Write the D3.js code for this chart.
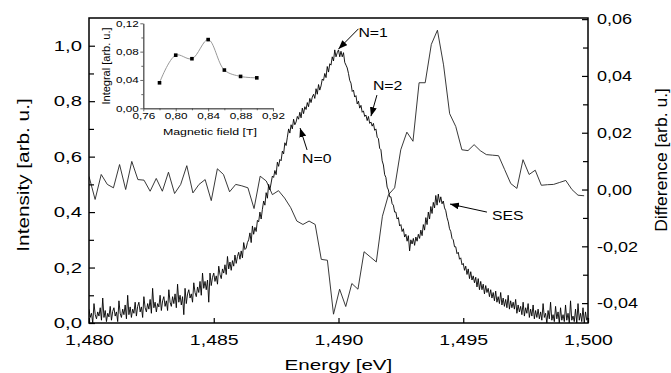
<!DOCTYPE html>
<html>
<head>
<meta charset="utf-8">
<script src="https://cdn.jsdelivr.net/npm/d3@7"></script>
<style>
  body { margin: 0; background: #fff; }
  svg { display: block; }
  text { font-family: "Liberation Sans", Arial, sans-serif; fill: #000; }
</style>
</head>
<body>
<div id="chart"></div>
<script>
// spectrum, sampled every 0.05 meV from 1.480 eV
const spectrumStart = 1.480;
const spectrumStep = 0.00005;
const spectrumIntensity = [
  0.05, 0.02, 0.035, 0.0, 0.07, 0.03, 0.015, 0.04, 0.025, 0.055, 0.01, 0.09, 0.02, 0.045, 0.005, 0.035, 0.022, 0.06, 0.01, 0.042,
  0.055, 0.025, 0.04, 0.005, 0.08, 0.035, 0.02, 0.05, 0.03, 0.065, 0.015, 0.1, 0.03, 0.058, 0.02, 0.05, 0.035, 0.075, 0.025, 0.06,
  0.075, 0.04, 0.058, 0.02, 0.095, 0.055, 0.04, 0.07, 0.05, 0.085, 0.035, 0.125, 0.055, 0.075, 0.04, 0.07, 0.058, 0.1, 0.045, 0.08,
  0.095, 0.06, 0.08, 0.045, 0.12, 0.075, 0.06, 0.095, 0.07, 0.105, 0.055, 0.14, 0.075, 0.1, 0.065, 0.095, 0.03, 0.125, 0.07, 0.105,
  0.12, 0.09, 0.105, 0.075, 0.145, 0.11, 0.095, 0.13, 0.11, 0.15, 0.1, 0.18, 0.125, 0.15, 0.12, 0.155, 0.075, 0.18, 0.135, 0.165,
  0.18, 0.15, 0.17, 0.14, 0.205, 0.175, 0.16, 0.195, 0.18, 0.21, 0.175, 0.24, 0.195, 0.22, 0.19, 0.225, 0.205, 0.245, 0.215, 0.24,
  0.255, 0.23, 0.26, 0.235, 0.29, 0.265, 0.27, 0.29, 0.3, 0.325, 0.29, 0.35, 0.32, 0.345, 0.33, 0.37, 0.365, 0.4, 0.375, 0.41,
  0.44, 0.425, 0.47, 0.45, 0.5, 0.48, 0.505, 0.53, 0.525, 0.55, 0.535, 0.58, 0.565, 0.59, 0.585, 0.62, 0.61, 0.65, 0.64, 0.67,
  0.7, 0.685, 0.715, 0.7, 0.735, 0.715, 0.725, 0.745, 0.735, 0.76, 0.74, 0.775, 0.755, 0.78, 0.77, 0.795, 0.78, 0.81, 0.795, 0.815,
  0.825, 0.81, 0.845, 0.825, 0.86, 0.84, 0.855, 0.88, 0.875, 0.9, 0.885, 0.925, 0.905, 0.935, 0.93, 0.96, 0.945, 0.985, 0.96, 0.975,
  0.985, 0.96, 0.98, 0.96, 0.975, 0.94, 0.93, 0.92, 0.9, 0.875, 0.865, 0.835, 0.84, 0.815, 0.82, 0.79, 0.8, 0.775, 0.785, 0.76,
  0.765, 0.745, 0.75, 0.73, 0.745, 0.72, 0.725, 0.71, 0.72, 0.695, 0.7, 0.67, 0.665, 0.63, 0.625, 0.585, 0.57, 0.535, 0.525, 0.49,
  0.48, 0.455, 0.455, 0.43, 0.425, 0.4, 0.4, 0.375, 0.38, 0.35, 0.355, 0.33, 0.34, 0.31, 0.32, 0.295, 0.315, 0.26, 0.3, 0.285,
  0.305, 0.28, 0.31, 0.295, 0.32, 0.305, 0.335, 0.315, 0.355, 0.335, 0.38, 0.355, 0.4, 0.375, 0.42, 0.395, 0.435, 0.415, 0.46, 0.425,
  0.465, 0.435, 0.455, 0.43, 0.44, 0.415, 0.405, 0.38, 0.365, 0.34, 0.33, 0.305, 0.3, 0.275, 0.275, 0.25, 0.255, 0.23, 0.235, 0.21,
  0.215, 0.19, 0.205, 0.175, 0.195, 0.16, 0.185, 0.155, 0.17, 0.145, 0.165, 0.13, 0.16, 0.12, 0.15, 0.12, 0.14, 0.105, 0.135, 0.11,
  0.125, 0.095, 0.12, 0.09, 0.11, 0.08, 0.115, 0.075, 0.095, 0.07, 0.11, 0.065, 0.09, 0.06, 0.085, 0.055, 0.1, 0.05, 0.08, 0.055,
  0.075, 0.05, 0.085, 0.035, 0.065, 0.04, 0.06, 0.03, 0.075, 0.025, 0.055, 0.035, 0.07, 0.02, 0.05, 0.025, 0.065, 0.015, 0.045, 0.02,
  0.05, 0.015, 0.04, 0.01, 0.07, 0.02, 0.035, 0.0, 0.045, 0.015, 0.075, 0.01, 0.03, 0.005, 0.06, 0.015, 0.04, 0.0, 0.055, 0.01,
  0.03, 0.005, 0.065, 0.01, 0.035, 0.0, 0.08, 0.01, 0.025, 0.005, 0.05, 0.0, 0.07, 0.01, 0.035, 0.005, 0.055, 0.0, 0.04, 0.01,
  0.02
];

// difference curve (right axis)
const diffStart = 1.480;
const diffStep = 0.000245;
const difference = [
  0.0046, -0.0035, 0.0053, 0.0018, 0.0006, 0.0088, 0.0000, 0.0099, 0.0035, 0.0033,
  -0.0006, 0.0039, -0.0006, 0.0061, -0.0014, 0.0018, 0.0084, -0.0012, 0.0018, 0.0035,
  -0.0039, 0.0073, 0.0053, -0.0008, 0.0018, 0.0013, 0.0006, -0.0067, 0.0047, 0.0030,
  -0.0018, -0.0004, -0.0030, -0.0064, -0.0111, -0.0123, -0.0111, -0.0123, -0.0246, -0.0249,
  -0.0439, -0.0351, -0.0412, -0.0331, -0.0351, -0.0219, -0.0237, -0.0255, -0.0094, -0.0018,
  0.0006, 0.0140, 0.0202, 0.0170, 0.0376, 0.0376, 0.0511, 0.0561, 0.0439, 0.0267,
  0.0222, 0.0140, 0.0137, 0.0158, 0.0137, 0.0123, 0.0121, 0.0119, 0.0070, 0.0021,
  0.0004, 0.0105, 0.0053, 0.0068, 0.0015, 0.0017, 0.0018, 0.0025, 0.0032, 0.0000,
  -0.0020, -0.0022
];

// inset
const fieldValues = [0.78, 0.80, 0.82, 0.84, 0.86, 0.88, 0.90];
const integralValues = [0.036, 0.075, 0.070, 0.097, 0.054, 0.045, 0.043];

const energyTicks = [1.480, 1.485, 1.490, 1.495, 1.500];
const intensityTicks = [0, 0.2, 0.4, 0.6, 0.8, 1.0];
const intensityMinor = [0.1, 0.3, 0.5, 0.7, 0.9];
const differenceTicks = [-0.04, -0.02, 0, 0.02, 0.04, 0.06];
const differenceMinor = [-0.03, -0.01, 0.01, 0.03, 0.05];
const fieldTicks = [0.76, 0.80, 0.84, 0.88, 0.92];
const fieldMinor = [0.78, 0.82, 0.86, 0.90];
const integralTicks = [0, 0.04, 0.08, 0.12];
const integralMinor = [0.02, 0.06, 0.10];

// peak labels: text, arrow tail and head in data units
const peakLabels = [
  { text: 'N=1', tail: [1.4908, 1.061], head: [1.4900, 0.988], at: [1.4908, 1.031] },
  { text: 'N=2', tail: [1.49154, 0.822], head: [1.49130, 0.746], at: [1.49138, 0.840] },
  { text: 'N=0', tail: [1.48874, 0.624], head: [1.48846, 0.703], at: [1.48854, 0.577] },
  { text: 'SES', tail: [1.49595, 0.400], head: [1.49447, 0.429], at: [1.49615, 0.371] }
];

const width = 671, height = 373;
const plot = { left: 89, right: 588, top: 18, bottom: 323 };

const svg = d3.select('#chart').append('svg')
  .attr('width', width).attr('height', height);

svg.append('defs').append('marker')
  .attr('id', 'head')
  .attr('markerUnits', 'userSpaceOnUse')
  .attr('markerWidth', 9).attr('markerHeight', 7)
  .attr('refX', 9).attr('refY', 3.5)
  .attr('orient', 'auto')
  .append('path').attr('d', 'M0,0L9,3.5L0,7Z').attr('fill', '#000');

const x = d3.scaleLinear().domain([1.480, 1.500]).range([plot.left, plot.right]);
const yL = d3.scaleLinear().domain([0, 1.1]).range([plot.bottom, plot.top]);
const yR = d3.scaleLinear().domain([-0.047, 0.0604]).range([plot.bottom, plot.top]);

const comma = d => v => d3.format('.' + d + 'f')(v).replace('.', ',').replace('\u2212', '-');

// glyphs in the picture are wider than plain Arial
function stretch(sel, k) {
  sel.each(function () {
    const w = this.getComputedTextLength();
    d3.select(this).attr('textLength', w * k).attr('lengthAdjust', 'spacingAndGlyphs');
  });
}

function styleAxis(g, size, k) {
  g.select('.domain').remove();
  g.selectAll('line').attr('stroke', '#000').attr('stroke-width', 1.2);
  g.selectAll('text').attr('font-size', size).attr('font-family', null).call(stretch, k);
}

svg.append('defs').append('clipPath').attr('id', 'clip')
  .append('rect')
  .attr('x', plot.left).attr('y', plot.top)
  .attr('width', plot.right - plot.left).attr('height', plot.bottom - plot.top);

// difference curve
const diffLine = d3.line()
  .x((d, i) => x(diffStart + i * diffStep))
  .y(d => yR(d));
svg.append('path')
  .datum(difference)
  .attr('clip-path', 'url(#clip)')
  .attr('fill', 'none')
  .attr('stroke', '#222')
  .attr('stroke-width', 0.9)
  .attr('d', diffLine);

// spectrum
const specLine = d3.line()
  .x((d, i) => x(spectrumStart + i * spectrumStep))
  .y(d => yL(d));
svg.append('path')
  .datum(spectrumIntensity)
  .attr('clip-path', 'url(#clip)')
  .attr('fill', 'none')
  .attr('stroke', '#000')
  .attr('stroke-width', 0.9)
  .attr('d', specLine);

// axes
svg.append('g')
  .attr('transform', `translate(0,${plot.bottom})`)
  .call(d3.axisBottom(x).tickValues(energyTicks).tickSize(-5).tickPadding(11).tickFormat(comma(3)))
  .call(styleAxis, 15, 1.3);

svg.append('g')
  .attr('transform', `translate(${plot.left},0)`)
  .call(d3.axisLeft(yL).tickValues(intensityTicks).tickSize(-6).tickPadding(7).tickFormat(comma(1)))
  .call(styleAxis, 15, 1.35);
svg.append('g')
  .attr('transform', `translate(${plot.left},0)`)
  .call(d3.axisLeft(yL).tickValues(intensityMinor).tickSize(-5).tickFormat(''))
  .call(styleAxis, 15, 1);

svg.append('g')
  .attr('transform', `translate(${plot.right},0)`)
  .call(d3.axisRight(yR).tickValues(differenceTicks).tickSize(-6).tickPadding(9).tickFormat(comma(2)))
  .call(styleAxis, 15, 1.2);
svg.append('g')
  .attr('transform', `translate(${plot.right},0)`)
  .call(d3.axisRight(yR).tickValues(differenceMinor).tickSize(-5).tickFormat(''))
  .call(styleAxis, 15, 1);

svg.append('rect')
  .attr('x', plot.left).attr('y', plot.top)
  .attr('width', plot.right - plot.left).attr('height', plot.bottom - plot.top)
  .attr('fill', 'none').attr('stroke', '#000').attr('stroke-width', 1.5);

// axis titles
svg.append('text')
  .attr('x', (plot.left + plot.right) / 2).attr('y', 370)
  .attr('text-anchor', 'middle').attr('font-size', 15.5)
  .text('Energy [eV]').call(stretch, 1.33);

svg.append('text')
  .attr('transform', 'translate(29,175) rotate(-90)')
  .attr('text-anchor', 'middle').attr('font-size', 17)
  .text('Intensity [arb. u.]').call(stretch, 1.22);

svg.append('text')
  .attr('transform', 'translate(667,160) rotate(-90)')
  .attr('text-anchor', 'middle').attr('font-size', 17)
  .text('Difference [arb. u.]').call(stretch, 1.03);

// peak labels
peakLabels.forEach(p => {
  svg.append('line')
    .attr('x1', x(p.tail[0])).attr('y1', yL(p.tail[1]))
    .attr('x2', x(p.head[0])).attr('y2', yL(p.head[1]))
    .attr('stroke', '#000').attr('stroke-width', 1)
    .attr('marker-end', 'url(#head)');
  svg.append('text')
    .attr('x', x(p.at[0])).attr('y', yL(p.at[1]))
    .attr('font-size', 13.5)
    .text(p.text).call(stretch, 1.17);
});

// inset
const xi = d3.scaleLinear().domain([0.76, 0.92]).range([143.3, 273]);
const yi = d3.scaleLinear().domain([0, 0.12]).range([108.3, 23.3]);
const inset = svg.append('g');

inset.append('path')
  .datum(fieldValues.map((f, i) => [f, integralValues[i]]))
  .attr('fill', 'none').attr('stroke', '#999').attr('stroke-width', 1)
  .attr('d', d3.line().x(d => xi(d[0])).y(d => yi(d[1])).curve(d3.curveCatmullRom.alpha(0.5)));

inset.selectAll('rect.pt')
  .data(fieldValues)
  .join('rect').attr('class', 'pt')
  .attr('x', (d, i) => xi(d) - 1.8).attr('y', (d, i) => yi(integralValues[i]) - 1.8)
  .attr('width', 3.6).attr('height', 3.6).attr('fill', '#000');

function styleInset(g, k) {
  g.select('.domain').attr('stroke', '#444').attr('stroke-width', 0.8);
  g.selectAll('line').attr('stroke', '#444').attr('stroke-width', 0.8);
  g.selectAll('text').attr('font-size', 9).attr('font-family', null).call(stretch, k);
}

inset.append('g')
  .attr('transform', 'translate(0,108.3)')
  .call(d3.axisBottom(xi).tickValues(fieldTicks).tickSize(3).tickSizeOuter(0).tickPadding(1.5).tickFormat(comma(2)))
  .call(styleInset, 1.3);
inset.append('g')
  .attr('transform', 'translate(0,108.3)')
  .call(d3.axisBottom(xi).tickValues(fieldMinor).tickSize(2).tickSizeOuter(0).tickFormat(''))
  .call(styleInset, 1);
inset.append('g')
  .attr('transform', 'translate(143.3,0)')
  .call(d3.axisLeft(yi).tickValues(integralTicks).tickSize(3).tickSizeOuter(0).tickPadding(1.5).tickFormat(comma(2)))
  .call(styleInset, 1.3);
inset.append('g')
  .attr('transform', 'translate(143.3,0)')
  .call(d3.axisLeft(yi).tickValues(integralMinor).tickSize(2).tickSizeOuter(0).tickFormat(''))
  .call(styleInset, 1);

inset.append('text')
  .attr('transform', 'translate(110,66) rotate(-90)')
  .attr('text-anchor', 'middle').attr('font-size', 10)
  .text('Integral [arb. u.]').call(stretch, 1.1);

inset.append('text')
  .attr('x', 210).attr('y', 134.5)
  .attr('text-anchor', 'middle').attr('font-size', 9.5)
  .text('Magnetic field [T]').call(stretch, 1.3);
</script>
</body>
</html>
